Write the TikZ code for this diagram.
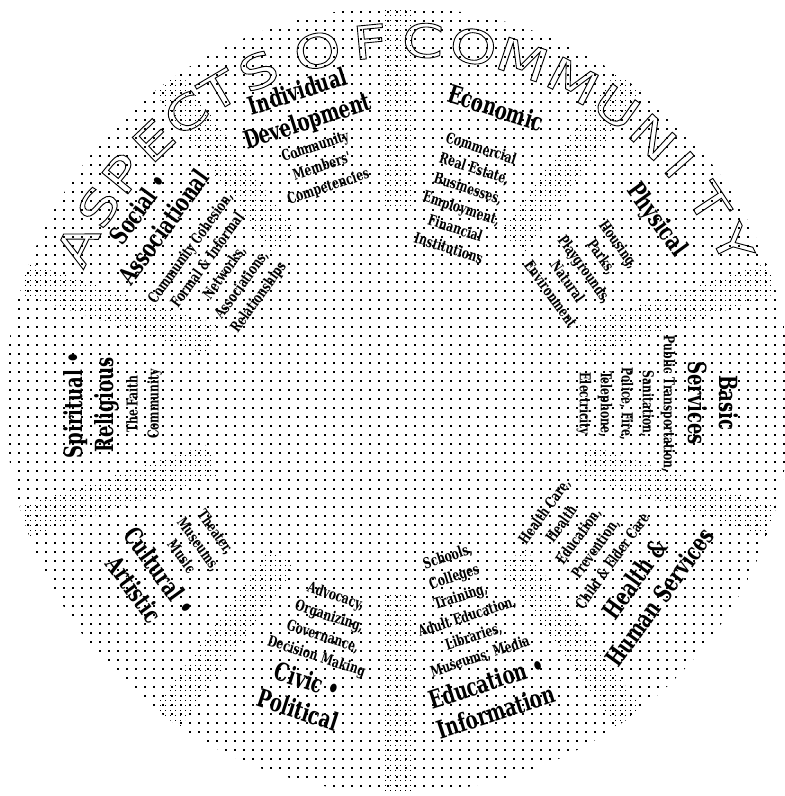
\documentclass[tikz,border=0pt]{standalone}
\usepackage{fontspec}
\setmainfont{DejaVu Serif}
\newfontfamily\headfont{DejaVu Serif}[FakeStretch=0.72]
\newfontfamily\ringfont{DejaVu Sans}[FakeStretch=1.3]
\usetikzlibrary{patterns}

% hollow letters for the ring title
\newcommand\hollow[1]{\special{pdf:literal direct 1 Tr 0.9 w}#1\special{pdf:literal direct 0 Tr}}

% halftone look of the disk
\pgfdeclarepatternformonly{sparsedots}{\pgfqpoint{0pt}{0pt}}{\pgfqpoint{2pt}{2pt}}{\pgfqpoint{9pt}{9pt}}{%
  \pgfpathrectangle{\pgfqpoint{0pt}{0pt}}{\pgfqpoint{1.6pt}{1.6pt}}\pgfusepath{fill}}
\pgfdeclarepatternformonly{densedots}{\pgfqpoint{0pt}{0pt}}{\pgfqpoint{2pt}{2pt}}{\pgfqpoint{5pt}{5pt}}{%
  \pgfpathrectangle{\pgfqpoint{0pt}{0pt}}{\pgfqpoint{1.4pt}{1.4pt}}\pgfusepath{fill}}

\begin{document}
\begin{tikzpicture}[x=1pt, y=1pt,
    title/.style={font=\headfont\bfseries\fontsize{25}{31}\selectfont, align=center, inner sep=0pt},
    detail/.style={font=\headfont\bfseries\fontsize{15}{21}\selectfont, align=center, inner sep=0pt},
    ringletter/.style={font=\ringfont\fontsize{46}{46}\selectfont, inner sep=0pt}]
    \useasboundingbox (-398,-396) rectangle (387,400);
    \fill[white] (-398,-396) rectangle (387,400);

    % Background
    \begin{scope}
        \clip (0,0) circle (393);
        \fill[pattern=sparsedots] (0,0) circle (393);
        \foreach \b in {90,54,18,-18,-54,-90,-126,-162,162,126}
            \fill[pattern=densedots, rotate=\b] (195,-16) rectangle (400,16);
    \end{scope}

    % Sectors
    \node (inddev) [title, rotate=18] at (-95,292) {Individual\\Development};
    \node (inddetail) [detail, rotate=18] at (-76,233) {Community\\Members'\\Competencies};

    \node (econ) [title, rotate=-18] at (98,292) {Economic};
    \node (econdetail) [detail, rotate=-18] at (67,202) {Commercial\\Real Estate,\\Businesses,\\Employment,\\Financial\\Institutions};

    \node (phys) [title, rotate=-54] at (258,180) {Physical};
    \node (physdetail) [detail, rotate=-54] at (187,131) {Housing,\\Parks,\\Playgrounds,\\Natural\\Environment};

    \node (basic) [title, rotate=-90] at (315,-3) {Basic\\Services};
    \node (basicdetail) [detail, rotate=-90] at (228,-4) {Public Transportation,\\Sanitation,\\Police, Fire,\\Telephone,\\Electricity};

    \node (health) [title, rotate=54] at (249,-188) {Health \&\\Human Services};
    \node (healthdetail) [detail, rotate=54] at (180,-136) {Health Care,\\Health\\Education,\\Prevention,\\Child \& Elder Care};

    \node (edu) [title, rotate=18] at (93,-297) {Education \textbullet\\Information};
    \node (edudetail) [detail, rotate=18] at (66,-207) {Schools,\\Colleges\\Training,\\Adult Education,\\Libraries,\\Museums, Media};

    \node (civic) [title, rotate=-18] at (-95,-295) {Civic \textbullet\\Political};
    \node (civicdetail) [detail, rotate=-18] at (-72,-227) {Advocacy,\\Organizing,\\Governance,\\Decision Making};

    \node (culture) [title, rotate=-54] at (-251,-180) {Cultural \textbullet\\Artistic};
    \node (culturedetail) [detail, rotate=-54] at (-199,-144) {Theater,\\Museums,\\Music};

    \node (spirit) [title, rotate=90] at (-307,-5) {Spiritual \textbullet\\Religious};
    \node (spiritdetail) [detail, rotate=90] at (-254,-4) {The Faith\\Community};

    \node (social) [title, rotate=54] at (-247,182) {Social \textbullet\\Associational};
    \node (socialdetail) [detail, rotate=54] at (-173,127) {Community Cohesion,\\Formal \& Informal\\Networks,\\Associations,\\Relationships};

    % Title ring
    \foreach \ch/\ang [count=\i] in {A/153.9, S/147.1, P/140.7, E/133.6, C/126.9, T/120.6, S/113.7,
        O/103.9, F/95.5, C/87.2, O/79.2, M/71.2, M/62.6, U/54.6, N/47.2, I/41.2, T/33.6, Y/26.2}
        \node (ring\i) [ringletter, rotate=\ang-90] at ([shift={(7,-5)}]\ang:365) {\hollow{\ch}};
\end{tikzpicture}
\end{document}
